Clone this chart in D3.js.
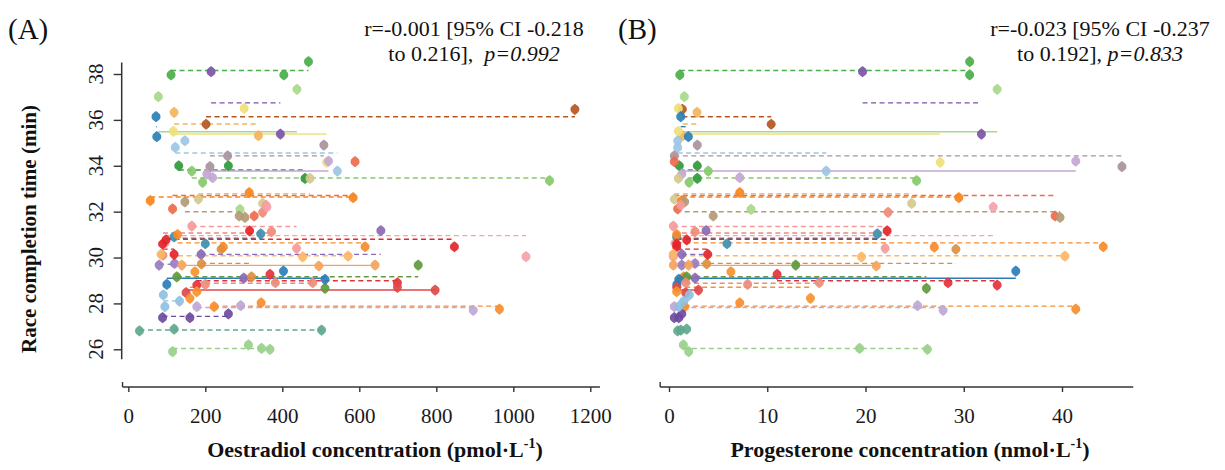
<!DOCTYPE html>
<html>
<head>
<meta charset="utf-8">
<script src="https://cdn.jsdelivr.net/npm/d3@7"></script>
<style>
  body { margin: 0; background: #fff; }
  svg { display: block; font-family: "Liberation Serif", "Times New Roman", serif; }
</style>
</head>
<body>
<div id="chart"></div>
<script>
// Repeated-measures correlation plots: race time vs oestradiol (A) and progesterone (B)

// participant colours and fitted-line style (true = dashed)
const colours = ['#4aae48', '#7b54a8', '#b5561f', '#f2b45c', '#a8d98a', '#efe07a', '#9cc6e4', '#a8929e',
    '#2f9a3a', '#c3a7d3', '#86c96b', '#d6c98e', '#f7861c', '#ee6a4a', '#b39a74', '#f59a9a',
    '#f08a78', '#f4a3a8', '#3d8fae', '#e3262a', '#fb8a2a', '#fcb766', '#8c69b4', '#9a7cc0',
    '#f5a35a', '#dc8f3e', '#5f9a3c', '#2a7db8', '#e5323a', '#e04848', '#ee8c7a', '#f98d2c',
    '#bfa6d6', '#6e4a9e', '#5fa88c', '#98d08a', '#8ec0e0', '#f7912e', '#2b7fb8', '#e3262a'];
const dashed = [true, true, true, true, false, false, true, true, true, false, true, true, true, true, true, true,
    true, true, true, true, true, true, true, true, false, true, true, false, true, false, true, true,
    true, true, true, true, true, true, true, true];

// race completion time (min) per visit
const raceTime = [
    [37.96, 37.96, 38.54], [38.1, 35.38], [35.81, 36.46], [36.33, 35.31], [37.01, 37.33, 32.1],
    [35.5, 36.5, 34.15], [34.8, 35.09, 33.77], [34.9, 34.43, 33.96], [34.0, 34.0, 33.45], [33.64, 33.48, 34.2],
    [33.77, 33.28, 33.35], [33.45, 32.54, 32.36], [32.48, 32.83, 32.61], [32.12, 31.81, 34.18], [32.43, 31.81, 31.75],
    [31.37, 32.28, 30.4], [31.97, 30.1, 31.13], [30.62, 32.2, 30.04], [30.9, 30.6, 31.03], [30.77, 31.16, 30.47],
    [31.0, 30.45, 30.47], [30.14, 30.03, 30.06], [30.14, 31.17, 29.1], [29.67, 29.74], [29.67, 29.63, 29.67],
    [29.72, 30.36, 29.16], [29.16, 28.66, 29.67], [28.83, 29.41, 29.05], [28.8, 29.27, 28.9], [28.47, 28.7, 28.58],
    [28.9, 28.9, 28.83], [28.03, 27.86, 27.75], [27.86, 27.9, 27.7], [27.38, 27.38, 27.54], [26.8, 26.88, 26.84],
    [25.9, 26.19, 26.04, 26.0], [28.37, 27.86, 28.1], [28.51, 28.22, 29.38], [36.14, 35.27], [30.59, 30.14]
];

// oestradiol (pmol/L) per visit
const oestradiol = [
    [111, 404, 468], [215, 395], [202, 1160], [119, 338], [78, 438, 290],
    [117, 301, 515], [122, 147, 543], [508, 258, 212], [131, 260, 459], [204, 219, 520],
    [165, 193, 1094], [472, 182, 349], [57, 314, 584], [115, 327, 589], [147, 288, 303],
    [165, 358, 437], [349, 90, 372], [95, 360, 1033], [119, 200, 344], [98, 315, 847],
    [128, 247, 615], [85, 453, 571], [189, 656, 300], [80, 120], [139, 495, 641],
    [190, 241, 320], [126, 511, 753], [100, 403, 511], [178, 368, 699], [150, 699, 797],
    [382, 479, 200], [345, 223, 964], [178, 292, 896], [89, 160, 260], [29, 119, 502],
    [115, 312, 346, 368], [91, 95, 133], [178, 160, 173], [72, 74], [89, 119]
];

// progesterone (nmol/L) per visit
const progesterone = [
    [1.1, 30.6, 30.6], [19.7, 31.8], [10.4, 1.36], [2.85, 1.4], [1.56, 33.4, 8.35],
    [0.95, 0.95, 27.6], [0.88, 0.88, 16.0], [2.88, 0.54, 46.1], [1.05, 2.88, 2.88], [1.3, 7.2, 41.4],
    [4.0, 2.04, 25.2], [0.95, 0.54, 24.7], [1.29, 7.2, 29.5], [0.88, 39.3, 0.54], [1.6, 4.5, 39.8],
    [0.44, 1.2, 22.0], [22.3, 0.44, 2.65], [0.6, 33.0, 0.44], [0.78, 5.9, 21.2], [1.8, 22.2, 0.78],
    [0.78, 27.0, 44.2], [0.44, 19.6, 40.3], [1.3, 3.77, 2.65], [1.3, 2.65], [0.44, 21.1, 2.0],
    [3.84, 29.2, 1.5], [1.8, 26.2, 12.9], [0.8, 35.3, 1.0], [33.4, 11.0, 28.4], [1.7, 0.78, 3.0],
    [15.3, 1.7, 8.0], [7.2, 1.6, 41.4], [0.54, 25.3, 27.9], [0.54, 1.0, 1.3], [0.88, 1.8, 1.2],
    [2.0, 1.46, 19.4, 26.3], [2.07, 1.0, 1.5], [0.78, 14.4, 6.3], [1.19, 1.97], [0.78, 3.94]
];

// axis ticks and annotations
const timeTicks = [26, 28, 30, 32, 34, 36, 38];
const oeTicks = [0, 200, 400, 600, 800, 1000, 1200];
const progTicks = [0, 10, 20, 30, 40];
const panelLabels = ['(A)', '(B)'];
const statLine1 = ['r=-0.001 [95% CI -0.218', 'r=-0.023 [95% CI -0.237'];
const statLine2 = ['to 0.216],  ', 'to 0.192], '];
const statP = ['p=0.992', 'p=0.833'];

const W = 1225, H = 470;
const svg = d3.select('#chart').append('svg')
    .attr('width', W)
    .attr('height', H);

const y = d3.scaleLinear().domain([26, 38]).range([349.3, 74]);
const axisY = 387;

// marker: round body with slightly pointed top and bottom
const marker = 'M0,-5.6 L2.6,-3.6 A4.3,4.3 0 0 1 2.6,3.6 L0,5.6 L-2.6,3.6 A4.3,4.3 0 0 1 -2.6,-3.6 Z';

const panels = [
    {
        x: d3.scaleLinear().domain([0, 1200]).range([128.3, 590.3]),
        values: oestradiol, ticks: oeTicks, lineExt: [-15, 1225],
        title: 'Oestradiol concentration (pmol·L', titleX: 375, statX: 474, labelX: 8
    },
    {
        x: d3.scaleLinear().domain([0, 40]).range([669, 1062]),
        values: progesterone, ticks: progTicks, lineExt: [-0.9, 47.25],
        title: 'Progesterone concentration (nmol·L', titleX: 910, statX: 1100, labelX: 618
    }
];

panels.forEach((p, pi) => {
    const g = svg.append('g');

    // x axis
    const ax = g.append('g')
        .attr('transform', `translate(0,${axisY})`)
        .call(d3.axisBottom(p.x).tickValues(p.ticks).tickSize(5).tickPadding(16).tickFormat(d3.format('d')));
    ax.select('.domain').remove();
    ax.selectAll('line').attr('stroke', '#333').attr('stroke-width', 1.4);
    ax.selectAll('text')
        .style('font-family', '"Liberation Serif", serif')
        .style('font-size', '21px')
        .attr('fill', '#1a1a1a');
    g.append('line')
        .attr('x1', p.x(p.lineExt[0])).attr('x2', p.x(p.lineExt[1]))
        .attr('y1', axisY).attr('y2', axisY)
        .attr('stroke', '#333').attr('stroke-width', 1.5);
    g.append('line')
        .attr('x1', p.x(p.lineExt[0])).attr('x2', p.x(p.lineExt[0]))
        .attr('y1', axisY).attr('y2', axisY - 5)
        .attr('stroke', '#333').attr('stroke-width', 1.4);

    // x axis title with superscript
    const t = g.append('text')
        .attr('x', p.titleX)
        .attr('y', 457)
        .attr('text-anchor', 'middle')
        .style('font-size', '22px')
        .style('font-weight', 'bold')
        .attr('fill', '#111')
        .text(p.title);
    t.append('tspan').attr('dy', -9).style('font-size', '14px').text('-1');
    t.append('tspan').attr('dy', 9).text(')');

    // panel label
    g.append('text')
        .attr('x', p.labelX)
        .attr('y', 39)
        .style('font-size', '29px')
        .attr('fill', '#111')
        .text(panelLabels[pi]);

    // correlation statistics
    g.append('text')
        .attr('x', p.statX).attr('y', 36)
        .attr('text-anchor', 'middle')
        .style('font-size', '22px')
        .attr('fill', '#111')
        .text(statLine1[pi]);
    const s2 = g.append('text')
        .attr('x', p.statX).attr('y', 61)
        .attr('text-anchor', 'middle')
        .style('font-size', '22px')
        .style('white-space', 'pre')
        .attr('fill', '#111');
    s2.append('tspan').text(statLine2[pi]);
    s2.append('tspan').style('font-style', 'italic').text(statP[pi]);

    // fitted lines (common slope ~0, so level = participant mean)
    raceTime.forEach((ys, i) => {
        const xs = p.values[i];
        const level = d3.mean(ys);
        g.append('line')
            .attr('x1', p.x(d3.min(xs))).attr('x2', p.x(d3.max(xs)))
            .attr('y1', y(level)).attr('y2', y(level))
            .attr('stroke', colours[i])
            .attr('stroke-width', 1.4)
            .attr('stroke-dasharray', dashed[i] ? '5,3.5' : null);
    });

    // points
    raceTime.forEach((ys, i) => {
        const xs = p.values[i];
        g.selectAll(null)
            .data(ys.map((v, k) => ({ x: xs[k], y: v })))
            .enter()
            .append('path')
            .attr('d', marker)
            .attr('transform', d => `translate(${p.x(d.x)},${y(d.y)})`)
            .attr('fill', colours[i])
            .attr('fill-opacity', 0.92);
    });
});

// y axis (panel A only)
const yAxis = svg.append('g')
    .attr('transform', 'translate(121.7,0)')
    .call(d3.axisLeft(y).tickValues(timeTicks).tickSize(8).tickFormat(''));
yAxis.select('.domain').remove();
yAxis.selectAll('line').attr('stroke', '#333').attr('stroke-width', 1.4);
svg.append('line')
    .attr('x1', 121.7).attr('x2', 121.7)
    .attr('y1', y(38.5)).attr('y2', y(25.57))
    .attr('stroke', '#333').attr('stroke-width', 1.5);

svg.append('g').selectAll('text')
    .data(timeTicks)
    .enter()
    .append('text')
    .attr('transform', d => `translate(103,${y(d)}) rotate(-90)`)
    .attr('text-anchor', 'middle')
    .style('font-size', '21px')
    .attr('fill', '#1a1a1a')
    .text(d => d);

svg.append('text')
    .attr('transform', `translate(36,229) rotate(-90)`)
    .attr('text-anchor', 'middle')
    .style('font-size', '21px')
    .style('font-weight', 'bold')
    .attr('fill', '#111')
    .text('Race completion time (min)');
</script>
</body>
</html>
